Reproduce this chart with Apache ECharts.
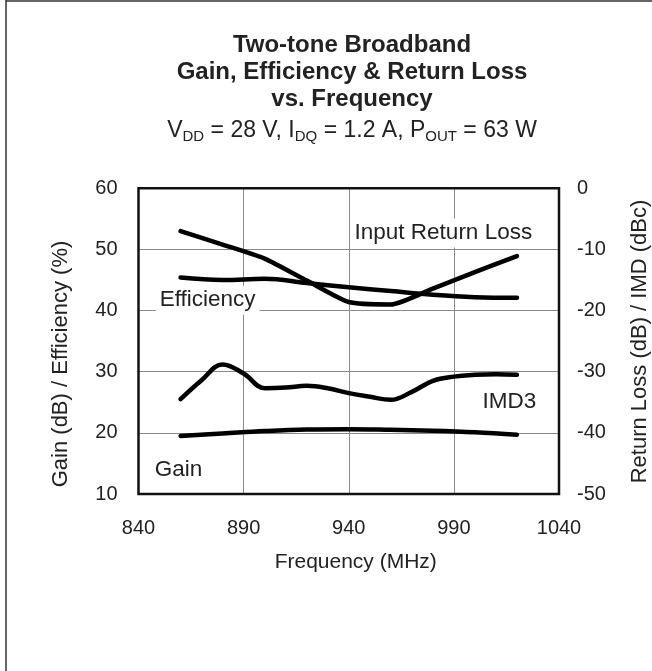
<!DOCTYPE html>
<html><head><meta charset="utf-8">
<script src="https://cdn.jsdelivr.net/npm/echarts@6/dist/echarts.min.js"></script>
<style>html,body{margin:0;padding:0;background:#fff}#c{width:652px;height:671px}</style>
</head><body><div id="c"></div>
<script>
// ---- data ----
const freqs = [860, 880, 900, 920, 940, 960, 980, 1000, 1020];
const gain = [19.5, 19.9, 20.3, 20.55, 20.6, 20.5, 20.35, 20.1, 19.7];
const efficiency = [45.4, 45.0, 45.2, 44.5, 43.8, 43.2, 42.6, 42.2, 42.1];
const returnLoss = [-7.0, -9.2, -11.5, -15.1, -18.6, -19.0, -16.4, -13.7, -11.1];
const imdFreqs = [860, 870, 880, 890, 900, 910, 920, 930, 940, 950, 960, 970, 980, 990, 1000, 1010, 1020];
const imd3 = [-34.5, -31.4, -28.8, -30.3, -32.7, -32.6, -32.3, -32.7, -33.5, -34.1, -34.6, -33.3, -31.5, -30.8, -30.5, -30.4, -30.5];
const xTicks = [840, 890, 940, 990, 1040];
const leftTicks = [10, 20, 30, 40, 50, 60];
const rightTicks = [-50, -40, -30, -20, -10, 0];
const notes = [
  { text: 'Input Return Loss', f: 985, v: 52.7 },
  { text: 'Efficiency', f: 872.9, v: 41.7 },
  { text: 'IMD3', f: 1016.4, v: 25.1 },
  { text: 'Gain', f: 859, v: 13.9 }
];

const FONT = '"Liberation Sans", Arial, Helvetica, sans-serif';
const TXT = '#222';
const pairs = (xs, ys) => xs.map((x, i) => [x, ys[i]]);

const chart = echarts.init(document.getElementById('c'), null, { renderer: 'canvas' });
const lineBase = { type: 'line', showSymbol: false, symbol: 'none', animation: false,
  lineStyle: { color: '#000', width: 4.5, cap: 'round', join: 'round' }, z: 3 };

chart.setOption({
  animation: false,
  backgroundColor: '#fff',
  title: {
    text: 'Two-tone Broadband\nGain, Efficiency & Return Loss\nvs. Frequency',
    left: 352, top: 31.5, textAlign: 'center', padding: 0, itemGap: 5.5,
    textStyle: { fontSize: 24, fontWeight: 'bold', lineHeight: 27, color: TXT, fontFamily: FONT },
    subtext: '{n|V}{s|DD}{n| = 28 V, I}{s|DQ}{n| = 1.2 A, P}{s|OUT}{n| = 63 W}',
    subtextStyle: {
      rich: {
        n: { fontSize: 23, lineHeight: 26, color: TXT, fontFamily: FONT },
        s: { fontSize: 15, lineHeight: 11, verticalAlign: 'bottom', color: TXT, fontFamily: FONT }
      }
    }
  },
  grid: { left: 138.5, top: 188.3, width: 420.5, height: 305.7, show: true,
    borderColor: '#111', borderWidth: 2.5, backgroundColor: 'transparent', z: 4 },
  xAxis: {
    type: 'value', min: xTicks[0], max: xTicks[xTicks.length - 1], interval: xTicks[1] - xTicks[0],
    name: 'Frequency (MHz)', nameLocation: 'middle', nameGap: 58,
    nameTextStyle: { fontSize: 21, color: TXT, fontFamily: FONT, padding: [0, 0, 0, 14] },
    axisLine: { show: false }, axisTick: { show: false },
    axisLabel: { fontSize: 20, color: TXT, fontFamily: FONT, margin: 24, formatter: v => String(v) },
    splitLine: { show: true, lineStyle: { color: '#8a8a8a', width: 1 } }
  },
  yAxis: [
    {
      type: 'value', position: 'left', min: leftTicks[0], max: leftTicks[leftTicks.length - 1],
      interval: leftTicks[1] - leftTicks[0],
      axisLine: { show: false }, axisTick: { show: false },
      axisLabel: { fontSize: 20, color: TXT, fontFamily: FONT, margin: 21 },
      splitLine: { show: true, lineStyle: { color: '#8a8a8a', width: 1 } }
    },
    {
      type: 'value', position: 'right', min: rightTicks[0], max: rightTicks[rightTicks.length - 1],
      interval: rightTicks[1] - rightTicks[0],
      axisLine: { show: false }, axisTick: { show: false },
      axisLabel: { fontSize: 20, color: TXT, fontFamily: FONT, margin: 18 },
      splitLine: { show: false }
    }
  ],
  series: [
    Object.assign({}, lineBase, { name: 'Gain', yAxisIndex: 0, smooth: 0.4, data: pairs(freqs, gain) }),
    Object.assign({}, lineBase, { name: 'Efficiency', yAxisIndex: 0, smooth: 0.4, data: pairs(freqs, efficiency) }),
    Object.assign({}, lineBase, { name: 'Input Return Loss', yAxisIndex: 1, smooth: 0.2, data: pairs(freqs, returnLoss) }),
    Object.assign({}, lineBase, { name: 'IMD3', yAxisIndex: 1, smooth: 0.4, data: pairs(imdFreqs, imd3) })
  ]
});

const gfx = [
  { type: 'line', shape: { x1: 6, y1: 0, x2: 6, y2: 671 }, style: { stroke: '#333', lineWidth: 1.5 }, silent: true },
  { type: 'line', shape: { x1: 6, y1: 1, x2: 652, y2: 1 }, style: { stroke: '#333', lineWidth: 1.5 }, silent: true },
  { type: 'text', x: 61, y: 364, rotation: Math.PI / 2,
    style: { text: 'Gain (dB) / Efficiency (%)', fontSize: 22, fontFamily: FONT, fill: TXT, align: 'center', verticalAlign: 'middle' } },
  { type: 'text', x: 640, y: 341.5, rotation: Math.PI / 2,
    style: { text: 'Return Loss (dB) / IMD (dBc)', fontSize: 22, fontFamily: FONT, fill: TXT, align: 'center', verticalAlign: 'middle' } }
];
notes.forEach(n => {
  const px = chart.convertToPixel({ xAxisIndex: 0 }, n.f);
  const py = chart.convertToPixel({ yAxisIndex: 0 }, n.v);
  gfx.push({ type: 'text', x: px, y: py, z: 1,
    style: { text: n.text, fontSize: 22.5, fontFamily: FONT, fill: TXT, align: 'center', verticalAlign: 'middle',
      backgroundColor: '#fff', padding: [3, 4] } });
});
chart.setOption({ graphic: gfx });
</script>
</body></html>
